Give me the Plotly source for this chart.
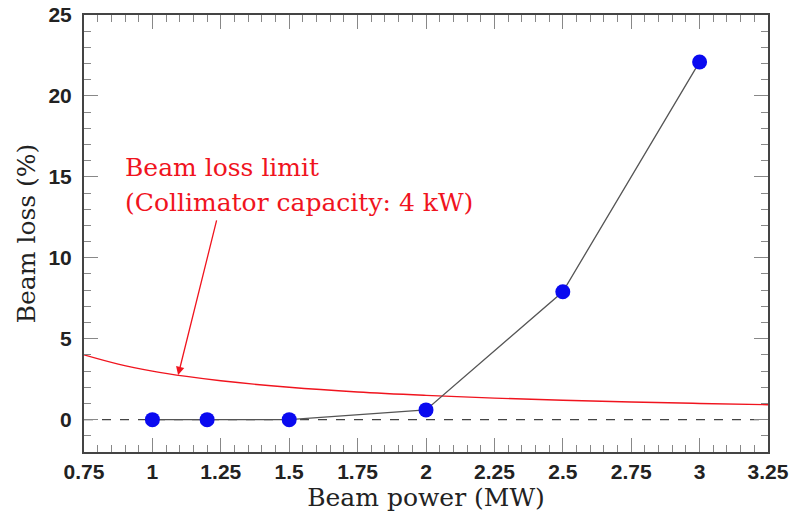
import plotly.graph_objects as go

# Measured beam loss
power_mw = [1.0, 1.2, 1.5, 2.0, 2.5, 3.0]
beam_loss = [0.0, 0.0, 0.0, 0.6, 7.9, 22.1]

# Beam loss limit curve
limit_x = [0.75, 0.875, 1.0, 1.125, 1.25, 1.5, 1.75, 2.0, 2.25, 2.5, 2.75, 3.0, 3.25]
limit_y = [4.0, 3.43, 3.0, 2.67, 2.4, 2.0, 1.71, 1.5, 1.33, 1.2, 1.09, 1.0, 0.92]

x_ticks = [0.75, 1, 1.25, 1.5, 1.75, 2, 2.25, 2.5, 2.75, 3, 3.25]
x_ticklabels = ["0.75", "1", "1.25", "1.5", "1.75", "2", "2.25", "2.5", "2.75", "3", "3.25"]
y_ticks = [0, 5, 10, 15, 20, 25]

label_line1 = "Beam loss limit"
label_line2 = "(Collimator capacity: 4 kW)"

serif = "DejaVu Serif"
RED = "#f0141e"

fig = go.Figure()

fig.add_hline(y=0, line=dict(color="#444", width=1.3, dash="dash"), layer="below")

fig.add_trace(go.Scatter(
    x=limit_x, y=limit_y, mode="lines",
    line=dict(color=RED, width=1.4, shape="spline"),
    hoverinfo="skip", showlegend=False,
))

fig.add_trace(go.Scatter(
    x=power_mw, y=beam_loss, mode="lines+markers",
    line=dict(color="#555", width=1.3),
    marker=dict(color="#0a0af0", size=15, line=dict(width=0)),
    showlegend=False,
))

fig.add_annotation(x=0.893, y=15.55, xref="x", yref="y", text=label_line1,
                   showarrow=False, xanchor="left", yanchor="middle",
                   font=dict(family=serif, size=25, color=RED))
fig.add_annotation(x=0.893, y=13.4, xref="x", yref="y", text=label_line2,
                   showarrow=False, xanchor="left", yanchor="middle",
                   font=dict(family=serif, size=25, color=RED))
fig.add_annotation(x=1.094, y=2.75, ax=1.236, ay=12.4, xref="x", yref="y",
                   axref="x", ayref="y", text="", showarrow=True,
                   arrowhead=2, arrowsize=1.3, arrowwidth=1.3, arrowcolor=RED)

tickfont = dict(family="Liberation Sans", size=21, color="#222", weight="bold")

fig.update_xaxes(
    range=[0.75, 3.25], tickvals=x_ticks, ticktext=x_ticklabels,
    showgrid=False, zeroline=False, automargin=False, ticklabeloverflow="allow",
    showline=True, linecolor="#444", linewidth=2, mirror="ticks",
    ticks="inside", ticklen=14, tickwidth=1.2, tickcolor="#888",
    minor=dict(dtick=0.05, tick0=0.75, ticks="inside", ticklen=7, tickwidth=1.2, tickcolor="#888"),
    tickfont=tickfont, ticklabelstandoff=0,
    title=dict(text="Beam power (MW)", font=dict(family=serif, size=25, color="#222"), standoff=0),
)
fig.update_yaxes(
    range=[-2, 25], tickvals=y_ticks,
    showgrid=False, zeroline=False, automargin=False, ticklabeloverflow="allow",
    showline=True, linecolor="#444", linewidth=2, mirror="ticks",
    ticks="inside", ticklen=14, tickwidth=1.2, tickcolor="#888",
    minor=dict(dtick=1, tick0=0, ticks="inside", ticklen=7, tickwidth=1.2, tickcolor="#888"),
    tickfont=tickfont, ticklabelstandoff=6,
    title=dict(text="Beam loss (%)", font=dict(family=serif, size=25, color="#222"), standoff=6),
)

fig.update_layout(
    width=792, height=515,
    margin=dict(l=84, r=24, t=15, b=63),
    plot_bgcolor="white", paper_bgcolor="white",
)

# remove the default page margin so the figure fills the window exactly
fig.write_html("out.html", config={"displayModeBar": False},
               post_script="document.body.style.margin='0';document.body.style.overflow='hidden';")
